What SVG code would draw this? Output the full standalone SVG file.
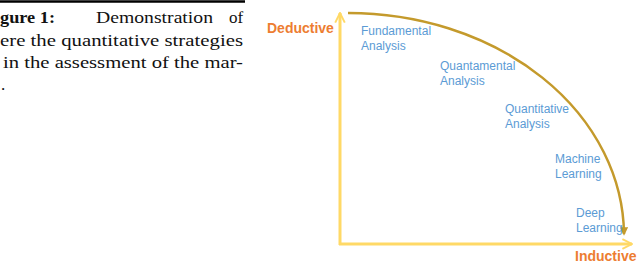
<svg xmlns="http://www.w3.org/2000/svg" width="640" height="265" viewBox="0 0 640 265">
<style>
.cap{font-family:"Liberation Serif","DejaVu Serif",serif;font-size:17px;fill:#111}
.lbl{font-family:"Liberation Sans",Arial,sans-serif;font-size:12px;fill:#5B9BD5}
.ax{font-family:"Liberation Sans",Arial,sans-serif;font-size:14px;font-weight:bold;fill:#ED7D31}
.axis{stroke:#FFD966;stroke-width:3;fill:none}
.curve{stroke:#C49A2C;stroke-width:2.5;fill:none}
</style>
<defs>
<marker id="open" viewBox="0 0 10 10" refX="9" refY="5" markerWidth="4" markerHeight="4" orient="auto" markerUnits="strokeWidth">
<path d="M1,1 L9,5 L1,9" fill="none" stroke="#FFD966" stroke-width="1.6"/>
</marker>
<marker id="tri" viewBox="0 0 10 10" refX="8" refY="5" markerWidth="3.4" markerHeight="3.4" orient="auto" markerUnits="strokeWidth">
<path d="M0,0 L10,5 L0,10 Z" fill="#C49A2C"/>
</marker>
</defs>
<g id="caption">
<line x1="0" y1="1.5" x2="245" y2="1.5" stroke="#000" stroke-width="2.5"/>
<text class="cap" x="0" y="23" font-weight="bold" textLength="55" lengthAdjust="spacingAndGlyphs">gure 1:</text>
<text class="cap" x="96" y="23" textLength="117" lengthAdjust="spacingAndGlyphs">Demonstration</text>
<text class="cap" x="229" y="23">of</text>
<text class="cap" x="0" y="46" textLength="243" lengthAdjust="spacingAndGlyphs">ere the quantitative strategies</text>
<text class="cap" x="3" y="68" textLength="240" lengthAdjust="spacingAndGlyphs">in the assessment of the mar-</text>
<text class="cap" x="1" y="90">.</text>
</g>
<g id="connectors">
<line class="axis" x1="340" y1="245" x2="340" y2="13" marker-end="url(#open)"/>
<line class="axis" x1="339" y1="244" x2="632" y2="244" marker-end="url(#open)"/>
<path class="curve" d="M348,13 A276,223 0 0 1 624,234" marker-end="url(#tri)"/>
</g>
<g id="deductive"><text class="ax" x="267" y="33">Deductive</text></g>
<g id="inductive"><text class="ax" x="575" y="261">Inductive</text></g>
<g id="fundamental"><text class="lbl" x="361" y="35">Fundamental</text><text class="lbl" x="361" y="50">Analysis</text></g>
<g id="quantamental"><text class="lbl" x="440" y="70">Quantamental</text><text class="lbl" x="440" y="85">Analysis</text></g>
<g id="quantitative"><text class="lbl" x="505" y="113">Quantitative</text><text class="lbl" x="505" y="128">Analysis</text></g>
<g id="machine"><text class="lbl" x="555" y="163">Machine</text><text class="lbl" x="555" y="178">Learning</text></g>
<g id="deep"><text class="lbl" x="576" y="217">Deep</text><text class="lbl" x="576" y="232">Learning</text></g>
</svg>
